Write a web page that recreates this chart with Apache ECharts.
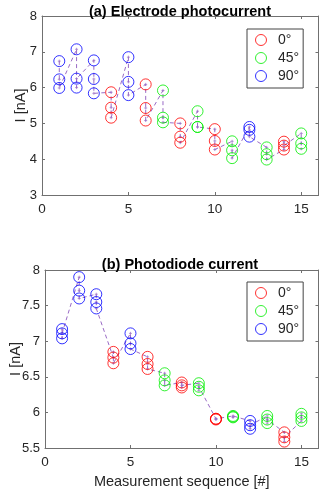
<html style="height: 100%">
<head>
	<meta charset="utf-8">
	<script type="text/javascript" src="https://cdn.jsdelivr.net/npm/echarts@6/dist/echarts.min.js"></script>
</head>

<body style="height: 100%; margin: 0; background: #fff">
	<div id="container" style="height:491px;width:320px"></div>
</body>

<script type="text/javascript">
	var dom = document.getElementById("container");
	var myChart = echarts.init(dom, null, { renderer: 'canvas' });

	// measurement index (x) and the polarisation angle used in each
	let seqIdx = [1, 2, 3, 4, 5, 6, 7, 8, 9, 10, 11, 12, 13, 14, 15];
	let seqAngle = ['90°', '90°', '90°', '0°', '90°', '0°', '45°', '0°', '45°', '0°', '45°', '90°', '45°', '0°', '45°'];
	let angles = ['0°', '45°', '90°'];
	let angleColors = ['#ff0000', '#00ee00', '#0000ff'];

	// 3 repeats per measurement, in the order they were taken
	let electrode = [
		[6.74, 6.23, 5.99], [7.07, 6.00, 6.25], [6.76, 6.24, 5.84], [5.87, 5.44, 5.16], [6.85, 6.16, 5.79],
		[6.09, 5.43, 5.08], [5.92, 5.16, 5.03], [5.00, 4.63, 4.46], [5.34, 4.90, 4.90], [4.84, 4.51, 4.27],
		[4.50, 4.25, 4.03], [4.90, 4.82, 4.63], [4.33, 4.14, 3.99], [4.27, 4.49, 4.38], [4.72, 4.44, 4.29]
	];
	let photodiode = [
		[7.17, 7.04, 7.11], [7.90, 7.71, 7.60], [7.66, 7.55, 7.46], [6.77, 6.85, 6.69], [7.11, 6.97, 6.89],
		[6.78, 6.68, 6.61], [6.55, 6.45, 6.38], [6.42, 6.35, 6.38], [6.41, 6.31, 6.36], [5.91, 5.90, 5.91],
		[5.95, 5.93, 5.94], [5.88, 5.77, 5.82], [5.95, 5.85, 5.90], [5.72, 5.59, 5.65], [5.88, 5.98, 5.93]
	];

	let axisCol = '#707070';
	let textCol = '#262626';
	let fontFam = 'Arial, Liberation Sans';
	let plusPath = 'path://M5,0L5,10M0,5L10,5';

	function buildSeries(vals, idx) {
		let seq = [];
		let groups = { '0°': [], '45°': [], '90°': [] };
		for (let i = 0; i < seqIdx.length; i++) {
			for (let k = 0; k < vals[i].length; k++) {
				seq.push([seqIdx[i], vals[i][k]]);
				groups[seqAngle[i]].push([seqIdx[i], vals[i][k]]);
			}
		}
		let out = [{
			type: 'line',
			xAxisIndex: idx * 2,
			yAxisIndex: idx * 2,
			data: seq,
			symbol: plusPath,
			symbolSize: 3,
			showSymbol: true,
			itemStyle: { color: 'transparent', borderColor: '#9a6bc6', borderWidth: 0.7 },
			lineStyle: { color: '#9a6bc6', width: 1, type: [4, 3] },
			z: 2,
			silent: true
		}];
		angles.forEach((a, j) => {
			out.push({
				name: a,
				type: 'scatter',
				xAxisIndex: idx * 2,
				yAxisIndex: idx * 2,
				data: groups[a],
				symbol: 'circle',
				symbolSize: 11,
				itemStyle: { color: 'transparent', borderColor: angleColors[j], borderWidth: 1 },
				z: 3
			});
		});
		return out;
	}

	function mkLegend(top) {
		return {
			left: 247,
			top: top,
			orient: 'vertical',
			itemWidth: 24,
			itemHeight: 11,
			itemGap: 4,
			padding: [4, 4, 5, 8],
			borderColor: '#444',
			borderWidth: 1,
			backgroundColor: '#fff',
			textStyle: { fontSize: 14, color: textCol, fontFamily: fontFam, lineHeight: 11 },
			data: angles.map((a, j) => ({
				name: a, icon: 'circle',
				itemStyle: { color: 'transparent', borderColor: angleColors[j], borderWidth: 1 }
			}))
		};
	}

	function mkX(gi, pos, showLabel, name) {
		return {
			gridIndex: gi, type: 'value', position: pos, min: 0, max: 16, interval: 5,
			axisLine: { show: true, onZero: false, lineStyle: { color: axisCol } },
			axisTick: { show: true, inside: true, length: 3, lineStyle: { color: axisCol } },
			axisLabel: { show: showLabel, fontSize: 13.5, color: textCol, margin: 7, fontFamily: fontFam,
				showMaxLabel: false },
			splitLine: { show: false },
			name: name, nameLocation: 'middle', nameGap: 26, nameMoveOverlap: false,
			nameTextStyle: { fontSize: 14.5, color: textCol, fontFamily: fontFam }
		};
	}

	function mkY(gi, pos, min, max, step, showLabel, gap) {
		return {
			gridIndex: gi, type: 'value', position: pos, min: min, max: max, interval: step,
			axisLine: { show: true, onZero: false, lineStyle: { color: axisCol } },
			axisTick: { show: true, inside: true, length: 3, lineStyle: { color: axisCol } },
			axisLabel: { show: showLabel, fontSize: 13, color: textCol, margin: 5, fontFamily: fontFam },
			splitLine: { show: false },
			name: showLabel ? 'I [nA]' : '', nameLocation: 'middle', nameGap: gap, nameMoveOverlap: false,
			nameTextStyle: { fontSize: 14.5, color: textCol, fontFamily: fontFam }
		};
	}

	var option = {
		backgroundColor: '#fff',
		animation: false,
		title: [
			{ text: '(a) Electrode photocurrent', left: 175, top: -1, textAlign: 'center',
				textStyle: { fontSize: 14.5, fontWeight: 'bold', color: '#000', fontFamily: fontFam } },
			{ text: '(b) Photodiode current', left: 175, top: 252, textAlign: 'center',
				textStyle: { fontSize: 14.5, fontWeight: 'bold', color: '#000', fontFamily: fontFam } }
		],
		legend: [mkLegend(29), mkLegend(282)],
		grid: [
			{ left: 42, top: 16, width: 276.5, height: 179 },
			{ left: 42, top: 270, width: 276.5, height: 178 }
		],
		xAxis: [
			mkX(0, 'bottom', true, ''),
			mkX(0, 'top', false, ''),
			mkX(1, 'bottom', true, 'Measurement sequence [#]'),
			mkX(1, 'top', false, '')
		],
		yAxis: [
			mkY(0, 'left', 3, 8, 1, true, 14),
			mkY(0, 'right', 3, 8, 1, false, 0),
			mkY(1, 'left', 5.5, 8, 0.5, true, 22),
			mkY(1, 'right', 5.5, 8, 0.5, false, 0)
		],
		series: buildSeries(electrode, 0).concat(buildSeries(photodiode, 1))
	};

	myChart.setOption(option);
</script>

</html>
